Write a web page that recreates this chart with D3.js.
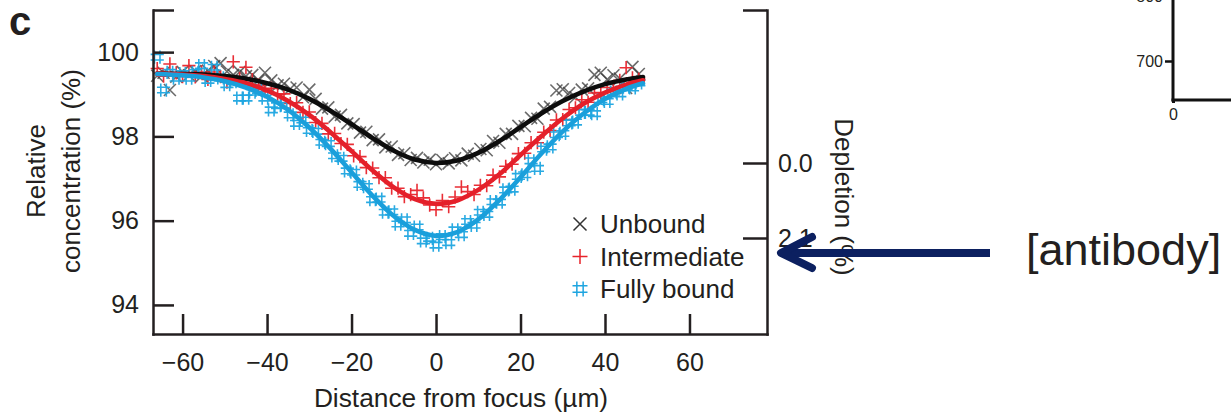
<!DOCTYPE html>
<html>
<head>
<meta charset="utf-8">
<script src="https://cdn.jsdelivr.net/npm/d3@7"></script>
<style>
  html, body { margin: 0; padding: 0; background: #fff; }
  svg { display: block; }
  text { font-family: "Liberation Sans", Arial, Helvetica, sans-serif; fill: #231f20; }
</style>
</head>
<body>
<svg id="chart" width="1231" height="414"></svg>
<script>
// Sampling positions along the channel (µm from the focus)
const distance = [-66,-64.5,-63,-61.5,-60,-58.5,-57,-55.5,-54,-52.5,
  -51,-49.5,-48,-46.5,-45,-43.5,-42,-40.5,-39,-37.5,
  -36,-34.5,-33,-31.5,-30,-28.5,-27,-25.5,-24,-22.5,
  -21,-19.5,-18,-16.5,-15,-13.5,-12,-10.5,-9,-7.5,
  -6,-4.5,-3,-1.5,0,1.5,3,4.5,6,7.5,
  9,10.5,12,13.5,15,16.5,18,19.5,21,22.5,
  24,25.5,27,28.5,30,31.5,33,34.5,36,37.5,
  39,40.5,42,43.5,45,46.5,48];

// Measured relative concentration (%) for each binding state
const unbound = [99.44,99.51,99.10,99.42,99.53,99.45,99.55,99.43,99.56,99.67,
  99.74,99.54,99.46,99.53,99.43,99.46,99.33,99.51,99.33,99.21,
  99.25,99.13,99.16,98.93,99.11,98.89,98.66,98.69,98.47,98.51,
  98.31,98.29,98.09,98.11,97.91,97.93,97.74,97.76,97.56,97.60,
  97.44,97.49,97.38,97.45,97.34,97.44,97.36,97.48,97.43,97.59,
  97.54,97.70,97.67,97.89,97.85,98.06,98.06,98.25,98.24,98.44,
  98.42,98.66,98.70,99.09,99.12,99.03,98.93,99.11,99.14,99.46,
  99.51,99.35,99.45,99.37,99.15,99.65,99.48];

const intermediate = [99.61,99.43,99.72,99.51,99.42,99.68,99.41,99.53,99.35,99.53,
  99.42,99.29,99.77,99.37,99.64,99.35,99.22,99.06,99.14,99.00,
  99.01,98.78,98.80,98.57,98.58,98.33,98.31,98.06,98.07,97.83,
  97.81,97.54,97.52,97.26,97.25,97.02,97.02,96.77,96.77,96.57,
  96.62,96.72,96.54,96.37,96.26,96.48,96.33,96.56,96.80,96.69,
  96.62,96.84,96.83,97.08,97.04,97.29,97.34,97.59,97.60,97.85,
  97.85,98.10,98.14,98.39,98.40,98.64,98.68,98.87,98.81,99.03,
  99.04,99.16,99.10,99.33,99.63,99.39,99.36];

const fullyBound = [99.88,99.10,99.52,99.38,99.49,99.38,99.52,99.68,99.33,99.64,
  99.39,99.23,99.30,98.91,98.91,99.05,99.09,98.91,98.63,98.73,
  98.74,98.51,98.31,98.39,98.14,98.12,97.86,97.83,97.54,97.48,
  97.18,97.15,96.86,96.81,96.50,96.51,96.20,96.21,95.92,96.02,
  95.70,95.85,95.52,95.58,95.42,95.62,95.48,95.78,95.67,95.98,
  95.89,96.20,96.15,96.45,96.44,96.73,96.75,97.05,97.09,97.42,
  97.24,97.70,97.75,98.04,98.07,98.32,98.34,98.57,98.57,98.54,
  98.87,98.83,99.05,99.01,99.17,99.15,99.27];

// Fitted profiles
const fitDistance = [-66,-60,-55,-50,-45,-40,-35,-30,-25,-20,-15,-10,-5,0,5,10,15,20,25,30,35,40,45,49];
const unboundFit = [99.49,99.48,99.47,99.43,99.37,99.26,99.11,98.89,98.61,98.29,97.96,97.66,97.45,97.37,97.43,97.61,97.89,98.22,98.55,98.84,99.07,99.24,99.35,99.41];
const intermediateFit = [99.49,99.47,99.43,99.36,99.26,99.09,98.84,98.51,98.10,97.65,97.19,96.79,96.51,96.40,96.48,96.73,97.10,97.56,98.01,98.43,98.78,99.04,99.23,99.33];
const fullyBoundFit = [99.48,99.45,99.40,99.31,99.16,98.94,98.63,98.21,97.71,97.15,96.59,96.11,95.78,95.64,95.73,96.03,96.49,97.03,97.60,98.12,98.55,98.89,99.13,99.26];

const seriesNames = ["Unbound", "Intermediate", "Fully bound"];
const xTicks = [-60, -40, -20, 0, 20, 40, 60];
const yTicks = [94, 96, 98, 100];
const depletionTicks = [0.0, 2.1];

// Neighbouring panel (axis corner only)
const sideYTicks = [700, 800];
const sideXTicks = [0];

const svg = d3.select("#chart");
const ink = "#231f20";

// ---- scales ----
const x = d3.scaleLinear().domain([-67, 78.35]).range([153, 767]);
const y = d3.scaleLinear().domain([93.31, 101]).range([334, 10]);
const yDep = d3.scaleLinear().domain([-4.284, 4.788]).range([10, 334]);

// ---- marker shapes ----
const markerPath = {
  cross: s => `M${-s},${-s}L${s},${s}M${-s},${s}L${s},${-s}`,
  plus: s => `M${-s},0H${s}M0,${-s}V${s}`,
  hash: s => {
    const g = s * 0.42;
    return `M${-g},${-s}V${s}M${g},${-s}V${s}M${-s},${-g}H${s}M${-s},${g}H${s}`;
  }
};

const series = [
  { name: seriesNames[0], values: unbound, fit: unboundFit, shape: "cross",
    marker: "#3a3a3a", markerOpacity: 0.75, line: "#0d0d0d" },
  { name: seriesNames[1], values: intermediate, fit: intermediateFit, shape: "plus",
    marker: "#e8232b", markerOpacity: 0.95, line: "#e4202a" },
  { name: seriesNames[2], values: fullyBound, fit: fullyBoundFit, shape: "hash",
    marker: "#1ea5e0", markerOpacity: 0.95, line: "#1a9fdb" }
];

// ---- scatter ----
const pts = svg.append("g").attr("class", "points");
series.forEach(s => {
  pts.append("g")
    .selectAll("path")
    .data(distance.map((d, i) => [d, s.values[i]]))
    .join("path")
    .attr("transform", d => `translate(${x(d[0])},${y(d[1])})`)
    .attr("d", markerPath[s.shape](s.shape === "cross" ? 6 : 6.6))
    .attr("fill", "none")
    .attr("stroke", s.marker)
    .attr("stroke-opacity", s.markerOpacity)
    .attr("stroke-width", 1.6);
});

// ---- fitted curves ----
const line = d3.line()
  .x(d => x(d[0]))
  .y(d => y(d[1]))
  .curve(d3.curveCatmullRom.alpha(0.5));

const fits = svg.append("g").attr("class", "fits");
series.forEach(s => {
  fits.append("path")
    .datum(fitDistance.map((d, i) => [d, s.fit[i]]))
    .attr("d", line)
    .attr("fill", "none")
    .attr("stroke", s.line)
    .attr("stroke-width", 4.6)
    .attr("stroke-linecap", "round")
    .attr("stroke-linejoin", "round");
});

// ---- axes ----
function styleAxis(g, fontSize) {
  g.select(".domain").attr("stroke", ink).attr("stroke-width", 2.5).attr("stroke-linecap", "square");
  g.selectAll(".tick line").attr("stroke", ink).attr("stroke-width", 2.5);
  g.selectAll(".tick text").attr("font-size", fontSize).attr("fill", ink)
    .attr("font-family", '"Liberation Sans", Arial, Helvetica, sans-serif');
}

const yTop = y.domain()[1];
svg.append("g")
  .attr("transform", `translate(${x.range()[0]},0)`)
  .call(d3.axisLeft(y).tickValues([...yTicks, yTop])
    .tickFormat(d => d === yTop ? "" : d3.format("d")(d))
    .tickSize(-21).tickSizeOuter(0).tickPadding(14))
  .call(g => styleAxis(g, 25));

svg.append("g")
  .attr("transform", `translate(0,${y.range()[0]})`)
  .call(d3.axisBottom(x).tickValues(xTicks).tickFormat(d3.format("d"))
    .tickSize(-20).tickSizeOuter(0).tickPadding(19))
  .call(g => styleAxis(g, 25));

const depTop = yDep.domain()[0];
svg.append("g")
  .attr("transform", `translate(${x.range()[1]},0)`)
  .call(d3.axisRight(yDep).tickValues([depTop, ...depletionTicks])
    .tickFormat(d => d === depTop ? "" : d3.format(".1f")(d))
    .tickSize(-24).tickSizeOuter(0).tickPadding(11))
  .call(g => styleAxis(g, 25));

// ---- axis titles ----
svg.append("text")
  .attr("x", 461)
  .attr("y", 407)
  .attr("text-anchor", "middle")
  .attr("font-size", 26.3)
  .text("Distance from focus (µm)");

const yTitle = svg.append("g").attr("transform", "translate(0,171) rotate(-90)");
yTitle.append("text").attr("x", 0).attr("y", 45).attr("text-anchor", "middle")
  .attr("font-size", 26).text("Relative");
yTitle.append("text").attr("x", 0).attr("y", 80).attr("text-anchor", "middle")
  .attr("font-size", 26).text("concentration (%)");

svg.append("text")
  .attr("transform", "translate(835,197) rotate(90)")
  .attr("text-anchor", "middle")
  .attr("font-size", 26)
  .text("Depletion (%)");

// panel letter
svg.append("text")
  .attr("x", 9).attr("y", 35)
  .attr("font-size", 40).attr("font-weight", "bold")
  .attr("fill", "#111")
  .text("c");

// ---- legend ----
const legend = svg.append("g").attr("transform", "translate(580,224)");
series.forEach((s, i) => {
  const row = legend.append("g").attr("transform", `translate(0,${i * 32.5})`);
  row.append("path")
    .attr("d", markerPath[s.shape](s.shape === "cross" ? 6.5 : 7.5))
    .attr("fill", "none")
    .attr("stroke", s.shape === "cross" ? "#333" : s.marker)
    .attr("stroke-width", 1.5);
  row.append("text")
    .attr("x", 20).attr("y", 9)
    .attr("font-size", 26)
    .text(s.name);
});

// ---- annotation arrow pointing at the depletion axis ----
const arrowY = yDep(2.52);
const tipX = x.range()[1] + 14;
const navy = "#0c2060";
const arrow = svg.append("g").attr("stroke", navy).attr("fill", "none").attr("stroke-width", 8);
arrow.append("line").attr("x1", 990).attr("y1", arrowY).attr("x2", tipX + 4).attr("y2", arrowY);
arrow.append("path")
  .attr("d", `M${tipX + 31},${arrowY - 16}L${tipX},${arrowY}L${tipX + 31},${arrowY + 15}`)
  .attr("stroke-linecap", "round").attr("stroke-linejoin", "round");

svg.append("text")
  .attr("x", 1026).attr("y", 265)
  .attr("font-size", 45)
  .attr("fill", "#000")
  .text("[antibody]");

// ---- corner of the neighbouring panel ----
const sy = d3.scaleLinear().domain([640, 800]).range([100, -4]);
const sx = d3.scaleLinear().domain([0, 100]).range([1173, 1290]);
const side = svg.append("g");
side.append("g")
  .attr("transform", "translate(1173,0)")
  .call(d3.axisLeft(sy).tickValues(sideYTicks).tickSize(8).tickSizeOuter(0).tickPadding(2))
  .call(g => {
    g.select(".domain").remove();
    g.selectAll(".tick line").attr("stroke", "#111").attr("stroke-width", 2.5);
    g.selectAll(".tick text").attr("font-size", 16).attr("fill", "#222")
      .attr("font-family", '"Liberation Sans", Arial, sans-serif');
  });
side.append("g")
  .attr("transform", "translate(0,100)")
  .call(d3.axisBottom(sx).tickValues(sideXTicks).tickSize(3).tickSizeOuter(0).tickPadding(6))
  .call(g => {
    g.select(".domain").remove();
    g.selectAll(".tick line").attr("stroke", "#111").attr("stroke-width", 3);
    g.selectAll(".tick text").attr("font-size", 16).attr("fill", "#222")
      .attr("font-family", '"Liberation Sans", Arial, sans-serif');
  });
side.append("line").attr("x1", 1173).attr("x2", 1173).attr("y1", 0).attr("y2", 101.5)
  .attr("stroke", "#111").attr("stroke-width", 3);
side.append("line").attr("x1", 1171.5).attr("x2", 1231).attr("y1", 100).attr("y2", 100)
  .attr("stroke", "#111").attr("stroke-width", 3);
</script>
</body>
</html>
